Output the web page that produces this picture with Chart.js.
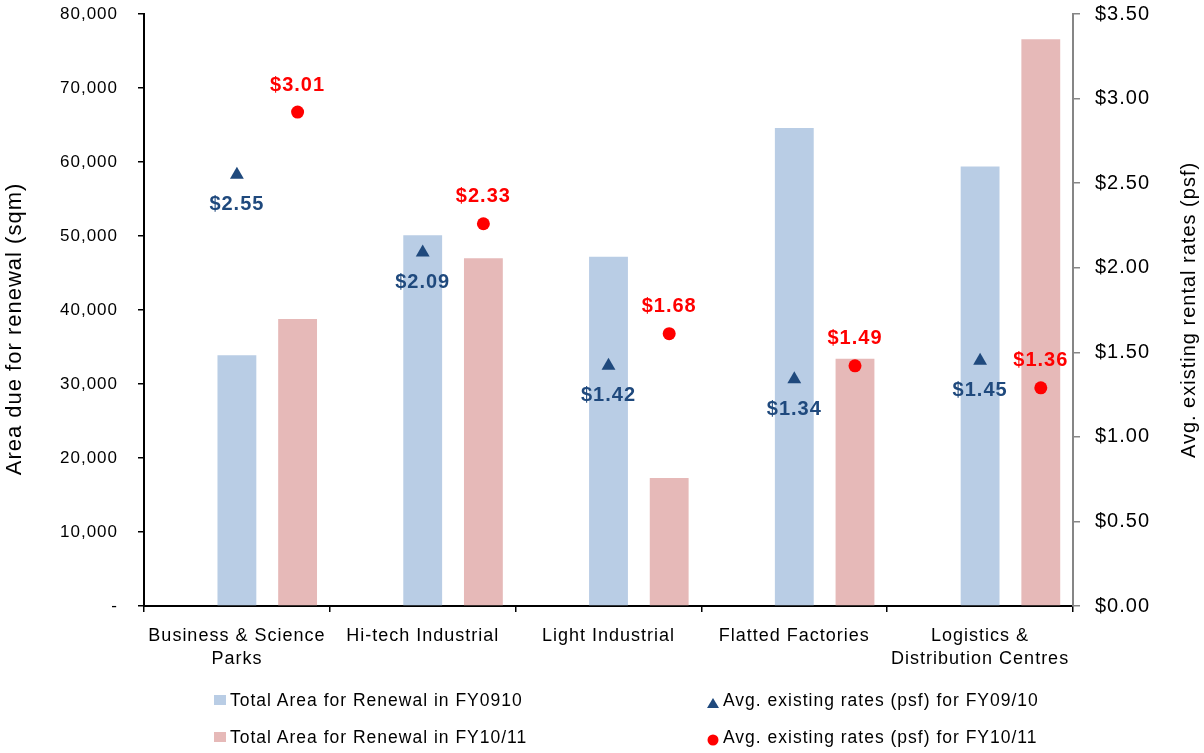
<!DOCTYPE html>
<html>
<head>
<meta charset="utf-8">
<script src="https://cdn.jsdelivr.net/npm/chart.js@4"></script>
<style>
  body { margin: 0; background: #fff; }
  #wrap { position: relative; width: 1204px; height: 753px; font-family: "Liberation Sans", Arial, sans-serif; }
  .leg { position: absolute; font-size: 17.5px; letter-spacing: 1px; line-height: 20px; color: #000; white-space: nowrap; }
  .sw { position: absolute; }
</style>
</head>
<body>
<div id="wrap">
  <canvas id="chart" width="1204" height="753"></canvas>
  <div id="legend"></div>
</div>
<script>
// categories and values
const categories = [["Business & Science", "Parks"], "Hi-tech Industrial", "Light Industrial", "Flatted Factories", ["Logistics &", "Distribution Centres"]];
const areaFY0910 = [33900, 50100, 47200, 64600, 59400];
const areaFY1011 = [38800, 47000, 17300, 33400, 76600];
const rateFY0910 = [2.55, 2.09, 1.42, 1.34, 1.45];
// printed labels of the red series, and where the dots actually sit on the right axis
const rateFY1011 = [3.01, 2.33, 1.68, 1.49, 1.36];
const rateFY1011Marker = [2.92, 2.26, 1.61, 1.42, 1.29];
const seriesNames = ["Total Area for Renewal in FY0910", "Total Area for Renewal in FY10/11",
  "Avg. existing rates (psf) for FY09/10", "Avg. existing rates (psf) for FY10/11"];
const axisTitles = ["Area due for renewal (sqm)", "Avg. existing rental rates (psf)"];

const BLUE_BAR = "#b9cde5", PINK_BAR = "#e6b9b8", NAVY = "#1f497d", RED = "#ff0000";
const FONT = '"Liberation Sans", Arial, sans-serif';

const spacing = {
  id: "spacing",
  beforeUpdate(chart) { chart.ctx.letterSpacing = "1px"; },
  beforeDraw(chart) { chart.ctx.letterSpacing = "1px"; }
};

// put each marker over its own bar
const alignMarkers = {
  id: "alignMarkers",
  afterDatasetsUpdate(chart) {
    const blue = chart.getDatasetMeta(3).data;
    const pink = chart.getDatasetMeta(4).data;
    chart.getDatasetMeta(0).data.forEach((pt, i) => { pt.x = blue[i].x; });
    chart.getDatasetMeta(1).data.forEach((pt, i) => { pt.x = pink[i].x; });
  }
};

const valueLabels = {
  id: "valueLabels",
  afterDatasetsDraw(chart) {
    const ctx = chart.ctx;
    ctx.save();
    ctx.font = "bold 20px " + FONT;
    ctx.textAlign = "center";
    ctx.textBaseline = "middle";
    ctx.fillStyle = NAVY;
    chart.getDatasetMeta(0).data.forEach((pt, i) => {
      ctx.fillText("$" + rateFY0910[i].toFixed(2), pt.x, pt.y + 30);
    });
    ctx.fillStyle = RED;
    chart.getDatasetMeta(1).data.forEach((pt, i) => {
      ctx.fillText("$" + rateFY1011[i].toFixed(2), pt.x, pt.y - 27);
    });
    ctx.restore();
  }
};

const axisTitleText = {
  id: "axisTitleText",
  afterDraw(chart) {
    const ctx = chart.ctx;
    const a = chart.chartArea;
    ctx.save();
    ctx.fillStyle = "#000";
    ctx.textAlign = "center";
    ctx.textBaseline = "middle";
    ctx.font = "22px " + FONT;
    ctx.translate(15, (a.top + a.bottom) / 2 + 19);
    ctx.rotate(-Math.PI / 2);
    ctx.fillText(axisTitles[0], 0, 0);
    ctx.restore();
    ctx.save();
    ctx.fillStyle = "#000";
    ctx.textAlign = "center";
    ctx.textBaseline = "middle";
    ctx.font = "20px " + FONT;
    ctx.translate(1189, (a.top + a.bottom) / 2);
    ctx.rotate(-Math.PI / 2);
    ctx.fillText(axisTitles[1], 0, 0);
    ctx.restore();
  }
};

// fixed box sizes so the plot area sits where the original's does
function fixWidth(w) {
  return (s) => { s.width = w; s.paddingTop = 0; s.paddingBottom = 0; };
}

const barOpts = { categoryPercentage: 0.98, barPercentage: 0.64, order: 1, yAxisID: "y", borderWidth: 0 };

new Chart(document.getElementById("chart"), {
  type: "bar",
  data: {
    labels: categories,
    datasets: [
      { type: "line", label: seriesNames[2], data: rateFY0910, yAxisID: "y1", order: 0, showLine: false,
        pointStyle: "triangle", pointRadius: 8, backgroundColor: NAVY, borderColor: NAVY, borderWidth: 0 },
      { type: "line", label: seriesNames[3], data: rateFY1011Marker, yAxisID: "y1", order: 0, showLine: false,
        pointStyle: "circle", pointRadius: 6.5, backgroundColor: RED, borderColor: RED, borderWidth: 0 },
      Object.assign({ label: "", data: categories.map(() => null) }, barOpts),
      Object.assign({ label: seriesNames[0], data: areaFY0910, backgroundColor: BLUE_BAR }, barOpts),
      Object.assign({ label: seriesNames[1], data: areaFY1011, backgroundColor: PINK_BAR }, barOpts)
    ]
  },
  options: {
    responsive: false,
    devicePixelRatio: 1,
    animation: false,
    layout: { padding: { top: 14, left: 0, right: 0, bottom: 0 } },
    plugins: { legend: { display: false }, tooltip: { enabled: false } },
    scales: {
      x: {
        afterFit(s) { s.height = 147; s.paddingLeft = 0; s.paddingRight = 0; },
        border: { color: "#000", width: 2 },
        grid: { drawOnChartArea: false, tickLength: 6, color: "#000", lineWidth: 1.5 },
        ticks: { color: "#000", font: { family: FONT, size: 18, lineHeight: 1.25 }, padding: 13, maxRotation: 0, autoSkip: false }
      },
      y: {
        position: "left",
        min: 0, max: 80000,
        afterFit: fixWidth(144),
        border: { color: "#000", width: 2 },
        grid: { drawOnChartArea: false, tickLength: 6, color: "#000", lineWidth: 1.5 },
        ticks: {
          stepSize: 10000, color: "#000", padding: 20,
          font: { family: FONT, size: 17 },
          callback: (v) => v === 0 ? "-" : v.toLocaleString("en-US")
        }
      },
      y1: {
        position: "right",
        min: 0, max: 3.5,
        afterFit: fixWidth(131),
        border: { color: "#868686", width: 2 },
        grid: { drawOnChartArea: false, tickLength: 7, color: "#868686", lineWidth: 1.5 },
        ticks: {
          stepSize: 0.5, color: "#000", padding: 15,
          font: { family: FONT, size: 20 },
          callback: (v) => "$" + v.toFixed(2)
        }
      }
    }
  },
  plugins: [spacing, alignMarkers, valueLabels, axisTitleText]
});

// legend, two columns like the original
const legendItems = [
  { text: seriesNames[0], x: 214, y: 690, mark: '<div style="width:12px;height:10px;background:' + BLUE_BAR + '"></div>' },
  { text: seriesNames[1], x: 214, y: 727, mark: '<div style="width:12px;height:10px;background:' + PINK_BAR + '"></div>' },
  { text: seriesNames[2], x: 707, y: 690, mark: '<svg width="12" height="11"><polygon points="6,0 12,10 0,10" fill="' + NAVY + '"/></svg>' },
  { text: seriesNames[3], x: 707, y: 727, mark: '<svg width="12" height="12"><circle cx="6" cy="6" r="5.5" fill="' + RED + '"/></svg>' }
];
const legend = document.getElementById("legend");
legendItems.forEach((it) => {
  const sw = document.createElement("div");
  sw.className = "sw";
  sw.style.left = it.x + "px";
  sw.style.top = (it.y + 5) + "px";
  sw.innerHTML = it.mark;
  legend.appendChild(sw);
  const t = document.createElement("div");
  t.className = "leg";
  t.style.left = (it.x + 16) + "px";
  t.style.top = it.y + "px";
  t.textContent = it.text;
  legend.appendChild(t);
});
</script>
</body>
</html>
